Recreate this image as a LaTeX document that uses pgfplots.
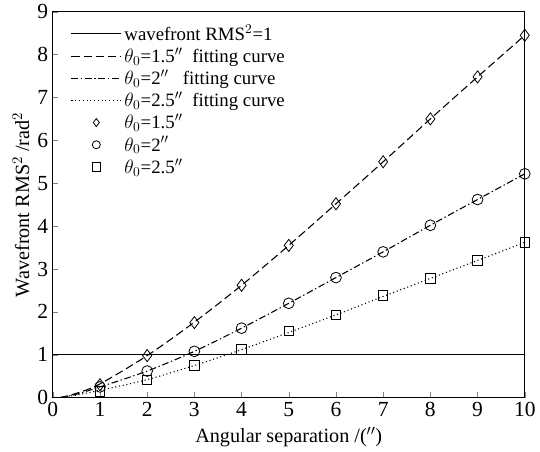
\documentclass[border=0pt]{standalone}
\usepackage{pgfplots}
\pgfplotsset{compat=1.18}
\usepackage{fontspec}
\setmainfont{Liberation Serif}
\pgfplotsset{
  longline legend/.style={legend image code/.code={\draw[##1] (0cm,0cm) -- (1.3cm,0cm);}},
  mark legend/.style={legend image code/.code={\draw[##1,mark repeat=2,mark phase=2,mark size=3pt] plot coordinates {(0cm,0cm) (0.65cm,0cm) (1.3cm,0cm)};}},
}
\begin{document}
\begin{tikzpicture}
\begin{axis}[
  scale only axis,
  width=351pt, height=287pt,
  xmin=0, xmax=10, ymin=0, ymax=9,
  xtick={0,1,...,10}, ytick={0,1,...,9},
  tick align=inside, xtick pos=bottom, ytick pos=left,
  major tick length=4pt,
  tick label style={font=\fontsize{16}{18}\selectfont},
  /pgf/number format/assume math mode=true,
  xlabel style={font=\fontsize{15}{17}\selectfont, yshift=-1pt},
  ylabel style={font=\fontsize{15}{17}\selectfont, yshift=-1pt},
  xlabel={Angular separation /(${}''$)},
  ylabel={Wavefront RMS$^2$ /rad$^2$},
  legend style={draw=none, fill=none, at={(0.035,0.978)}, anchor=north west,
    font=\fontsize{14}{15}\selectfont, row sep=0.2pt, inner sep=1pt},
  legend cell align=left,
  axis line style={line width=0.6pt},
]
\addplot[black, thin, forget plot] coordinates {(0,1) (10,1)};
\addlegendimage{black, thin, longline legend}
\addlegendentry{wavefront RMS$^2$=1}
\addplot[black, dash pattern=on 6pt off 3pt, thick, smooth, longline legend] coordinates {
(0.15,0) (0.5,0.1) (1,0.32) (2,0.98) (3,1.76) (4,2.62) (5,3.55) (6,4.52) (7,5.5) (8,6.5) (9,7.48) (10,8.45)};
\addlegendentry{$\theta_0$=1.5${}''$\ \ fitting curve}
\addplot[black, dash pattern=on 5pt off 2pt on 1pt off 2pt, thick, smooth, longline legend] coordinates {
(0.15,0) (0.5,0.08) (1,0.25) (2,0.62) (3,1.08) (4,1.62) (5,2.2) (6,2.8) (7,3.4) (8,4.02) (9,4.62) (10,5.22)};
\addlegendentry{$\theta_0$=2${}''$\ \ \ fitting curve}
\addplot[black, dotted, thick, smooth, longline legend] coordinates {
(0.15,0) (0.5,0.06) (1,0.17) (2,0.42) (3,0.75) (4,1.12) (5,1.52) (6,1.93) (7,2.36) (8,2.78) (9,3.2) (10,3.62)};
\addlegendentry{$\theta_0$=2.5${}''$\ \ fitting curve}
\addplot[only marks, mark=diamond, mark size=4.5pt, black, mark options={line width=0.6pt}, mark legend] coordinates {
(1,0.3) (2,0.98) (3,1.75) (4,2.62) (5,3.55) (6,4.52) (7,5.5) (8,6.5) (9,7.48) (10,8.45)};
\addlegendentry{$\theta_0$=1.5${}''$}
\addplot[only marks, mark=o, mark size=4pt, black, mark options={line width=0.6pt}, mark legend] coordinates {
(1,0.25) (2,0.62) (3,1.08) (4,1.62) (5,2.2) (6,2.8) (7,3.4) (8,4.02) (9,4.62) (10,5.22)};
\addlegendentry{$\theta_0$=2${}''$}
\addplot[only marks, mark=square, mark size=3.5pt, black, mark options={line width=0.6pt}, mark legend] coordinates {
(1,0.15) (2,0.42) (3,0.75) (4,1.12) (5,1.55) (6,1.93) (7,2.38) (8,2.78) (9,3.2) (10,3.62)};
\addlegendentry{$\theta_0$=2.5${}''$}
\end{axis}
\path ([xshift=-6pt]current axis.outer west);
\end{tikzpicture}
\end{document}
